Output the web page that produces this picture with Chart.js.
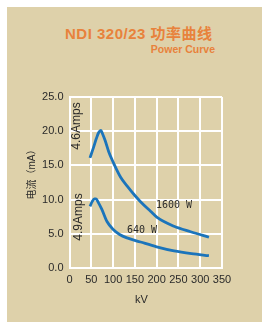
<!DOCTYPE html>
<html>
<head>
<meta charset="utf-8">
<script src="https://cdn.jsdelivr.net/npm/chart.js@4.4.1/dist/chart.umd.min.js"></script>
<style>
  html, body { margin: 0; padding: 0; background: #fff; }
  body { width: 262px; height: 322px; position: relative; overflow: hidden; }
  #panel { position: absolute; left: 7px; top: 7px; width: 255px; height: 315px; background: #ded1aa; }
  #wrap { position: absolute; left: 0; top: 0; width: 262px; height: 322px; }
  .t { position: absolute; color: #e8823c; font-family: "Liberation Sans", "Noto Sans CJK SC", sans-serif; font-weight: bold; white-space: nowrap; }
  #title { left: 65px; top: 22px; font-size: 15px; letter-spacing: 0.5px; }
  #sub { right: 47px; top: 43px; font-size: 10.5px; }
</style>
</head>
<body>
<div id="panel"></div>
<div class="t" id="title">NDI 320/23 功率曲线</div>
<div class="t" id="sub">Power Curve</div>
<div id="wrap"><canvas id="myChart" width="262" height="322"></canvas></div>
<script>
  'use strict';

  // Upper curve: 4.6 Amps / 1600 W
  const kv1600 = [47, 55, 62, 67, 72, 76, 82, 90, 100, 117, 132, 150, 163, 186, 201, 240, 278, 320];
  const ma1600 = [16.1, 17.6, 19.0, 19.8, 20.1, 19.6, 18.6, 17.0, 15.5, 13.3, 12.0, 10.6, 9.7, 8.3, 7.4, 6.1, 5.3, 4.5];

  // Lower curve: 4.9 Amps / 640 W
  const kv640 = [47, 52, 57, 61, 66, 74, 86, 101, 115, 132, 163, 200, 240, 280, 320];
  const ma640 = [9.0, 9.7, 10.1, 10.1, 9.6, 8.6, 6.8, 5.6, 4.9, 4.4, 3.8, 3.1, 2.5, 2.1, 1.8];

  const xTicks = [0, 50, 100, 150, 200, 250, 300, 350];
  const yTicks = [0, 5, 10, 15, 20, 25];

  const LINE = '#1b74bb';
  const TXT = '#2a2a2a';
  const FONT = '"Liberation Sans", "Noto Sans CJK SC", sans-serif';

  const toPoints = (xs, ys) => xs.map((x, i) => ({ x: x, y: ys[i] }));

  // extra labels: axis titles and curve notes
  const notes = {
    id: 'notes',
    afterDraw(chart) {
      const ctx = chart.ctx;
      const xs = chart.scales.x;
      ctx.save();
      ctx.fillStyle = TXT;
      ctx.textAlign = 'center';
      ctx.textBaseline = 'middle';
      ctx.font = '11px ' + FONT;
      ctx.fillText('kV', xs.getPixelForValue(165), 300);

      const vtext = (txt, x, y, size) => {
        ctx.save();
        ctx.translate(x, y);
        ctx.rotate(-Math.PI / 2);
        ctx.font = size + 'px ' + FONT;
        ctx.fillText(txt, 0, 0);
        ctx.restore();
      };
      vtext('电流（mA）', 32, 172, 10);
      vtext('4.6Amps', 77, 126, 12);
      vtext('4.9Amps', 79, 217, 12);

      ctx.textAlign = 'left';
      ctx.font = '10px "DejaVu Sans Mono", monospace';
      ctx.fillText('1600 W', 156, 205);
      ctx.fillText('640 W', 127, 230);
      ctx.restore();
    }
  };

  new Chart(document.getElementById('myChart'), {
    type: 'line',
    data: {
      datasets: [
        { data: toPoints(kv1600, ma1600), borderColor: LINE, borderWidth: 2.8, pointRadius: 0, cubicInterpolationMode: 'monotone', fill: false },
        { data: toPoints(kv640, ma640), borderColor: LINE, borderWidth: 2.8, pointRadius: 0, cubicInterpolationMode: 'monotone', fill: false }
      ]
    },
    options: {
      responsive: false,
      animation: false,
      layout: { padding: { left: 0, top: 97, right: 40, bottom: 0 } },
      plugins: { legend: { display: false }, tooltip: { enabled: false }, title: { display: false } },
      scales: {
        x: {
          type: 'linear', min: 0, max: 350,
          afterBuildTicks: (s) => { s.ticks = xTicks.map(v => ({ value: v })); },
          afterFit: (s) => { s.height = 54; },
          grid: { color: '#fff', lineWidth: 2, drawTicks: false },
          border: { color: '#fff', width: 2 },
          ticks: { color: TXT, padding: 5, maxRotation: 0, font: { family: FONT, size: 11 } }
        },
        y: {
          min: 0, max: 25,
          afterBuildTicks: (s) => { s.ticks = yTicks.map(v => ({ value: v })); },
          afterFit: (s) => { s.width = 69.5; },
          grid: { color: '#fff', lineWidth: 2, drawTicks: false },
          border: { color: '#fff', width: 2 },
          ticks: { color: TXT, padding: 6, font: { family: FONT, size: 11 }, callback: (v) => v.toFixed(1) }
        }
      }
    },
    plugins: [notes]
  });
</script>
</body>
</html>
